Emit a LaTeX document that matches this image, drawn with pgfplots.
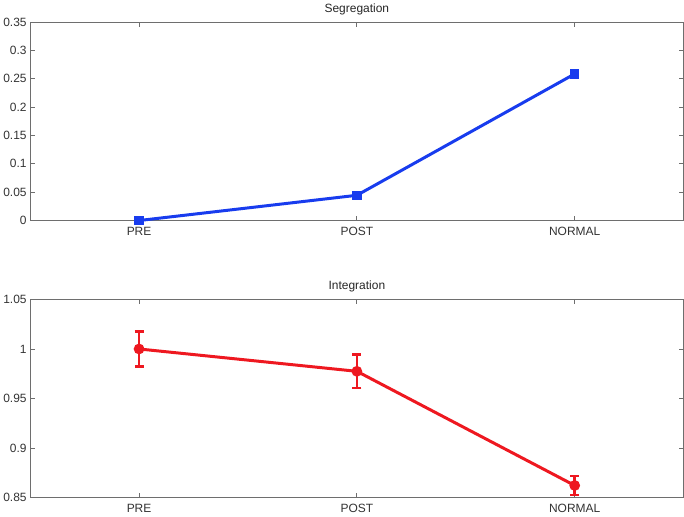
\documentclass[border=0pt]{standalone}
\usepackage{pgfplots}
\pgfplotsset{compat=1.18}
\usepackage{fontspec}
\setmainfont{Liberation Sans}
\definecolor{segblue}{RGB}{24,60,238}
\definecolor{intred}{RGB}{238,24,32}
\definecolor{axgray}{RGB}{110,110,110}
\begin{document}
\begin{tikzpicture}
\pgfplotsset{
  every axis/.style={
    scale only axis,
    width=655pt, height=199pt,
    xmin=0.5, xmax=3.5,
    xtick={1,2,3},
    xticklabels={PRE,POST,NORMAL},
    tick align=inside,
    major tick length=5pt,
    axis line style={axgray, line width=0.8pt},
    every tick/.style={axgray, line width=0.8pt},
    tick label style={font=\fontsize{12}{14}\selectfont, text=black!80},
    xticklabel style={yshift=-3pt},
    title style={font=\fontsize{12}{14}\selectfont, text=black!85, yshift=-2pt},
    /pgf/number format/assume math mode=true,
    scaled y ticks=false,
    clip=false,
  },
}
% top: Segregation
\begin{axis}[
  title={Segregation},
  ymin=0, ymax=0.35,
  ytick={0,0.05,0.1,0.15,0.2,0.25,0.3,0.35},
  yticklabels={0,0.05,0.1,0.15,0.2,0.25,0.3,0.35},
]
\addplot[segblue, line width=3pt, mark=square*, mark size=3.2pt,
  mark options={solid, segblue}] coordinates {
  (1,0.000) (2,0.0445) (3,0.2585)
};
\end{axis}
% bottom: Integration
\begin{axis}[
  at={(0,-278pt)},
  title={Integration},
  ymin=0.85, ymax=1.05,
  ytick={0.85,0.9,0.95,1,1.05},
  yticklabels={0.85,0.9,0.95,1,1.05},
]
\addplot[intred, line width=3pt, mark=*, mark size=3.8pt,
  mark options={solid, intred},
  error bars/.cd, y dir=both, y explicit,
  error bar style={line width=2.6pt, intred},
  error mark options={rotate=90, mark size=4.5pt, line width=2.6pt, intred}]
  coordinates {
  (1,1.000) +- (0,0.0175)
  (2,0.9775) +- (0,0.017)
  (3,0.8625) +- (0,0.0095)
};
\end{axis}
\end{tikzpicture}
\end{document}
